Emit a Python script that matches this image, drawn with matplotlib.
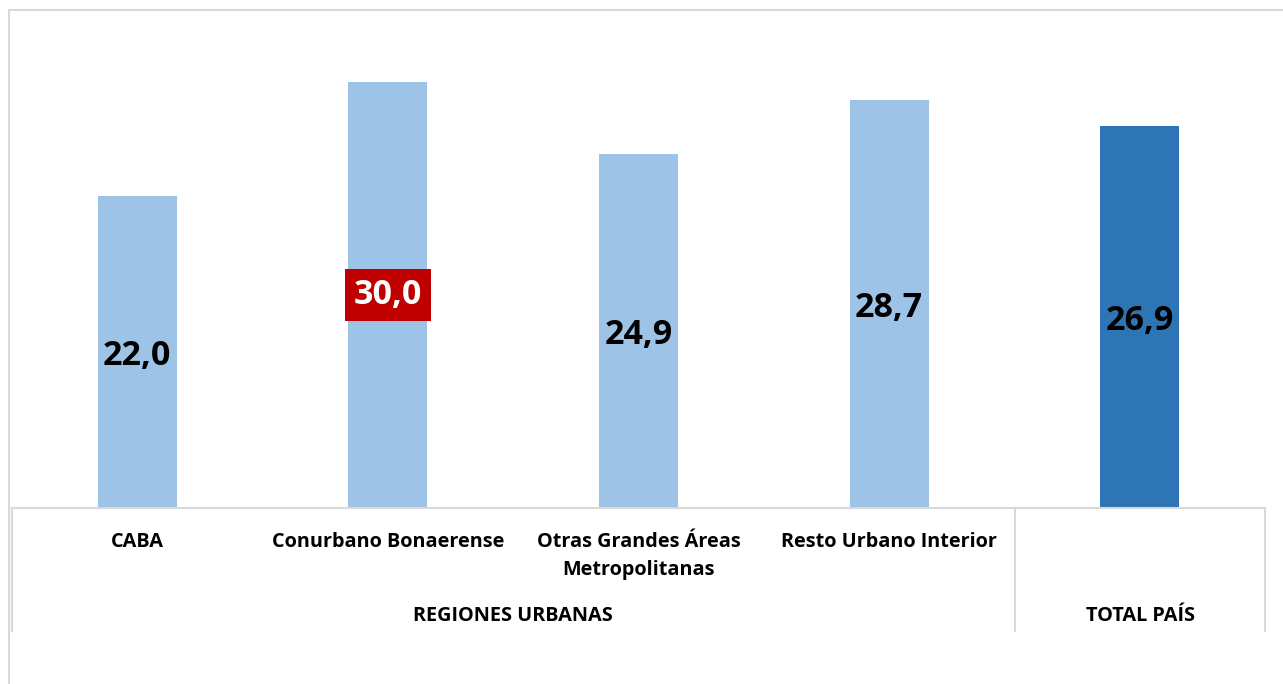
import matplotlib.pyplot as plt
from matplotlib.lines import Line2D

categories = ['CABA', 'Conurbano Bonaerense', 'Otras Grandes Áreas\nMetropolitanas',
              'Resto Urbano Interior', '']
values = [22.0, 30.0, 24.9, 28.7, 26.9]
value_labels = ['22,0', '30,0', '24,9', '28,7', '26,9']
groups = ['REGIONES URBANAS', 'TOTAL PAÍS']

W, H = 1283, 684
plt.rcParams['font.family'] = ['Open Sans', 'DejaVu Sans']
fig = plt.figure(figsize=(W / 100, H / 100), dpi=100)

def fx(px):
    return px / W

def fy(py):
    return 1 - py / H

ax = fig.add_axes([fx(12), fy(508), fx(1265) - fx(12), fy(11) - fy(508)])
colors = ['#9DC3E6'] * 4 + ['#2E75B6']
x = list(range(len(values)))
ax.bar(x, values, width=0.315, color=colors)
ax.set_xlim(-0.5, 4.5)
ax.set_ylim(0, 35)
ax.set_xticks([])
ax.set_yticks([])
for s in ['top', 'left', 'right']:
    ax.spines[s].set_visible(False)
ax.spines['bottom'].set_color('#D9D9D9')
ax.spines['bottom'].set_linewidth(1.5)

for i, (v, lab) in enumerate(zip(values, value_labels)):
    if i == 1:
        ax.text(i, v / 2, lab, ha='center', va='center', fontsize=24.5, fontweight='bold',
                color='white',
                bbox=dict(boxstyle='square,pad=0.26', facecolor='#C00000', edgecolor='none'))
    else:
        ax.text(i, v / 2 - 0.3, lab, ha='center', va='center', fontsize=24.5,
                fontweight='bold', color='black')

# category labels below the axis
for i, c in enumerate(categories):
    xp = 12 + (i + 0.5) * (1265 - 12) / 5
    fig.text(fx(xp), fy(532), c, ha='center', va='top', fontsize=14.3,
             fontweight='bold', linespacing=1.5)

fig.text(fx(513), fy(616), groups[0], ha='center', va='center', fontsize=14.3,
         fontweight='bold')
fig.text(fx(1140), fy(616), groups[1], ha='center', va='center', fontsize=14.3,
         fontweight='bold')

# table lines
for xp in [12, 1015, 1265]:
    fig.add_artist(Line2D([fx(xp), fx(xp)], [fy(508), fy(631)], color='#D9D9D9', lw=1.5))

# outer chart border
fig.add_artist(Line2D([fx(9), fx(9)], [fy(10), 0], color='#D9D9D9', lw=1.5))
fig.add_artist(Line2D([fx(9), 1], [fy(10), fy(10)], color='#D9D9D9', lw=1.5))

fig.savefig('out.png', dpi=100)
